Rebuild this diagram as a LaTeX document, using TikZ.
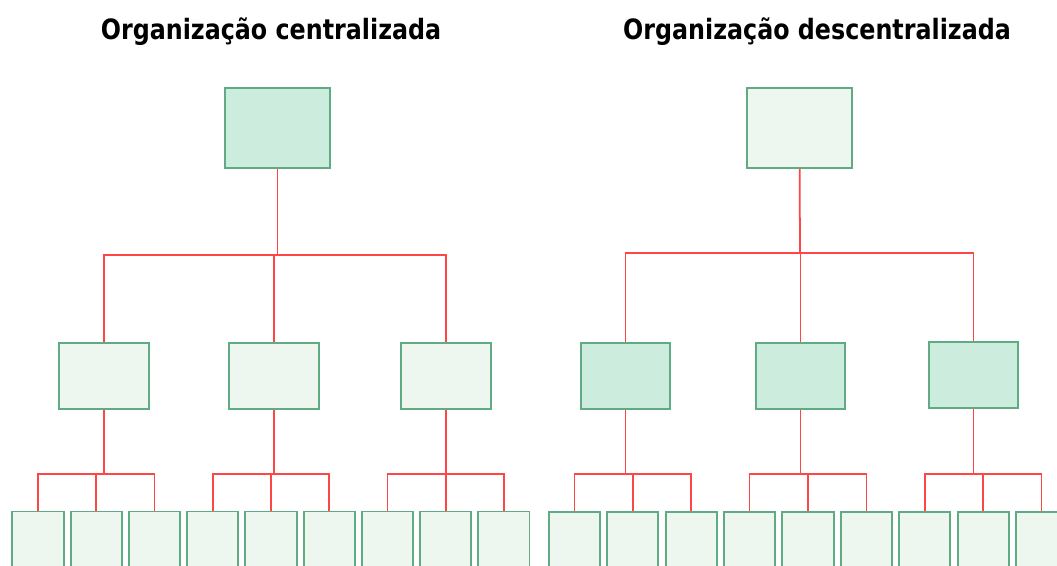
\documentclass[tikz,border=0pt]{standalone}
\usepackage{fontspec}
\newfontfamily\titlefont[FakeStretch=0.85]{DejaVu Sans}
\usetikzlibrary{calc}
\definecolor{boxline}{RGB}{96,170,132}
\definecolor{boxdark}{RGB}{204,237,221}
\definecolor{boxlight}{RGB}{237,247,240}
\definecolor{linkred}{RGB}{255,70,70}

\begin{document}
\begin{tikzpicture}[x=0.025cm,y=-0.025cm,
    box/.style={draw=boxline,line width=1.4pt,inner sep=0pt},
    big/.style={box,minimum width=2.64cm,minimum height=2cm},
    mid/.style={box,minimum width=2.24cm,minimum height=1.67cm},
    small/.style={box,fill=boxlight,minimum width=1.28cm,minimum height=1.75cm},
    link/.style={draw=linkred,line width=1.25pt},
    title/.style={font=\titlefont\bfseries\fontsize{19.9}{24}\selectfont,anchor=base,inner sep=0pt}]
      \useasboundingbox (0,0) rectangle (1057,565);
      \clip (0,0) rectangle (1057,565);
      \node[title] (tl) at (271,40) {Organização centralizada};
      \node[title] (tr) at (817,40) {Organização descentralizada};
      \node[big,fill=boxdark]  (lr) at (277.5,128) {};
      \node[big,fill=boxlight] (rr) at (799.5,128) {};
      \node[mid,fill=boxlight] (lm1) at (104,376) {};
      \node[mid,fill=boxlight] (lm2) at (274,376) {};
      \node[mid,fill=boxlight] (lm3) at (446,376) {};
      \node[mid,fill=boxdark]  (rm1) at (625.5,376) {};
      \node[mid,fill=boxdark]  (rm2) at (800.5,376) {};
      \node[mid,fill=boxdark]  (rm3) at (973.5,375) {};
      \foreach \i in {1,...,9} {
        \node[small] (lb\i) at ({37.95+58.24*(\i-1)},546.5) {};
        \node[small] (rb\i) at ({574.4+58.4*(\i-1)},547) {};
      }
      \coordinate (lj) at (277.5,255);
      \coordinate (rj) at (800,253);
      \draw[link] (lr) -- (lj);
      \draw[link] (rr) -- (rj);
      \foreach \m in {1,2,3} {
        \draw[link] (lj) -| (lm\m);
        \draw[link] (rj) -| (rm\m);
      }
      \foreach \m/\a/\b/\c in {1/1/2/3,2/4/5/6,3/7/8/9} {
        \coordinate (lk\m) at (lm\m |- 0,474);
        \coordinate (rk\m) at (rm\m |- 0,474);
        \draw[link] (lm\m) -- (lk\m);
        \draw[link] (rm\m) -- (rk\m);
        \foreach \n in {\a,\b,\c} {
          \draw[link] (lk\m) -| (lb\n);
          \draw[link] (rk\m) -| (rb\n);
        }
      }
    \end{tikzpicture}
\end{document}
